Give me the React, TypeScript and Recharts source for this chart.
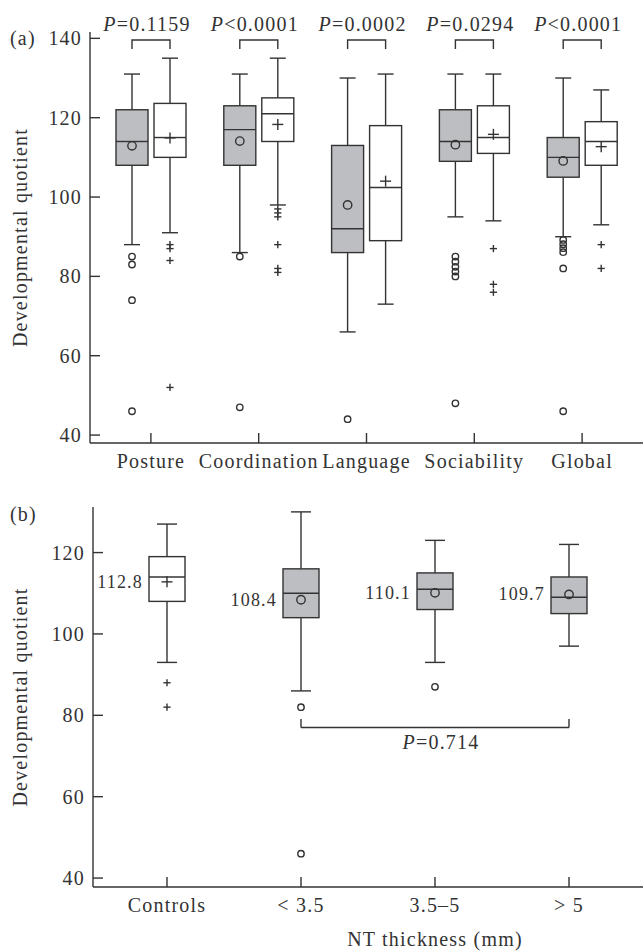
import { Bar, ComposedChart, ReferenceLine, XAxis, YAxis } from "recharts";

// ---- panel (a): developmental domains, NT group (grey) vs controls (white)
const domains = ["Posture", "Coordination", "Language", "Sociability", "Global"];
const pSigns = ["=", "<", "=", "=", "<"];
const pValues = ["0.1159", "0.0001", "0.0002", "0.0294", "0.0001"];

const greyMin = [88, 86, 66, 95, 90];
const greyQ1 = [108, 108, 86, 109, 105];
const greyMedian = [114, 117, 92, 114, 110];
const greyQ3 = [122, 123, 113, 122, 115];
const greyMax = [131, 131, 130, 131, 130];
const greyMean = [112.9, 114.1, 98, 113.2, 109.1];
const greyOutliers = [
  [85, 83, 74, 46],
  [85, 47],
  [44],
  [85, 83.7, 82.4, 81.2, 80, 48],
  [89.2, 88.1, 87.1, 86.1, 82, 46],
];

const whiteMin = [91, 98, 73, 94, 93];
const whiteQ1 = [110, 114, 89, 111, 108];
const whiteMedian = [115, 121, 102.4, 115, 114];
const whiteQ3 = [123.6, 125, 118, 123, 119];
const whiteMax = [135, 135, 131, 131, 127];
const whiteMean = [114.9, 118.3, 104, 115.8, 112.7];
const whiteOutliers = [[88, 87, 84, 52], [97, 96, 95, 88, 82, 81], [], [87, 78, 76], [88, 82]];

// ---- panel (b): by NT thickness
const ntGroups = ["Controls", "< 3.5", "3.5–5", "> 5"];
const ntMin = [93, 86, 93, 97];
const ntQ1 = [108, 104, 106, 105];
const ntMedian = [114, 110, 111, 109];
const ntQ3 = [119, 116, 115, 114];
const ntMax = [127, 130, 123, 122];
const ntMean = [112.8, 108.4, 110.1, 109.7];
const ntOutliers = [[88, 82], [82, 46], [87], []];
const ntBracket = { from: "< 3.5", to: "> 5", y: 77, tip: 79.1, p: "0.714" };

const FONT = '"Liberation Serif", "Times New Roman", serif';
const INK = "#333";
const GREY = "#bdbec1";
const SW = 1.4;

const panelAData = domains.map((name, i) => ({
  name,
  sign: pSigns[i],
  p: pValues[i],
  grey: { min: greyMin[i], q1: greyQ1[i], med: greyMedian[i], q3: greyQ3[i], max: greyMax[i], mean: greyMean[i], out: greyOutliers[i] },
  white: { min: whiteMin[i], q1: whiteQ1[i], med: whiteMedian[i], q3: whiteQ3[i], max: whiteMax[i], mean: whiteMean[i], out: whiteOutliers[i] },
}));

const panelBData = ntGroups.map((name, i) => ({
  name,
  box: { min: ntMin[i], q1: ntQ1[i], med: ntMedian[i], q3: ntQ3[i], max: ntMax[i], mean: ntMean[i], out: ntOutliers[i] },
  control: i === 0,
}));

function Plus({ x, y, r }: { x: number; y: number; r: number }) {
  return (
    <g stroke={INK} strokeWidth={SW}>
      <line x1={x - r} x2={x + r} y1={y} y2={y} />
      <line x1={x} x2={x} y1={y - r} y2={y + r} />
    </g>
  );
}

function Ring({ x, y, r }: { x: number; y: number; r: number }) {
  return <circle cx={x} cy={y} r={r} fill="none" stroke={INK} strokeWidth={SW} />;
}

// the bar spans whisker min..max, so its geometry gives the y scale for the rest
function boxShape(key: string, opts: { cap: number; plus: boolean; grey: boolean; bracket?: boolean; meanLabel?: boolean }) {
  return (props: any) => {
    const { x, y, width, height, payload } = props;
    const s = payload[key];
    const top = Math.min(y, y + height);
    const k = Math.abs(height) / (s.max - s.min);
    const Y = (v: number) => top + (s.max - v) * k;
    const cx = x + width / 2;
    const plus = opts.plus || payload.control;
    const fill = opts.grey && !payload.control ? GREY : "#fff";
    const Marker = plus ? Plus : Ring;
    const span = width + 6;
    return (
      <g>
        <g stroke={INK} strokeWidth={SW}>
          <line x1={cx} x2={cx} y1={Y(s.max)} y2={Y(s.q3)} />
          <line x1={cx} x2={cx} y1={Y(s.q1)} y2={Y(s.min)} />
          <line x1={cx - opts.cap} x2={cx + opts.cap} y1={Y(s.max)} y2={Y(s.max)} />
          <line x1={cx - opts.cap} x2={cx + opts.cap} y1={Y(s.min)} y2={Y(s.min)} />
          <rect x={x} y={Y(s.q3)} width={width} height={Y(s.q1) - Y(s.q3)} fill={fill} />
          <line x1={x} x2={x + width} y1={Y(s.med)} y2={Y(s.med)} />
        </g>
        <Marker x={cx} y={Y(s.mean)} r={plus ? 5.5 : 4.2} />
        {s.out.map((v: number, j: number) => (
          <Marker key={j} x={cx} y={Y(v)} r={plus ? 3.6 : 3.2} />
        ))}
        {opts.meanLabel && (
          <text x={x - 6} y={Y(s.mean)} textAnchor="end" dominantBaseline="central" fontSize={18} fill={INK}>
            {s.mean.toFixed(1)}
          </text>
        )}
        {opts.bracket && (
          <g>
            <path
              d={`M${cx},${Y(137.3)}V${Y(139.6)}H${cx + span}V${Y(137.3)}`}
              fill="none"
              stroke={INK}
              strokeWidth={SW}
            />
            <text x={cx + span / 2 - 4} y={Y(139.6) - 9} textAnchor="middle" fontSize={20} fill={INK}>
              <tspan fontStyle="italic">P</tspan>
              {payload.sign}
              {payload.p}
            </text>
          </g>
        )}
      </g>
    );
  };
}

const yTitle = (cx: number) => (props: any) => {
  const vb = props.viewBox;
  const cy = vb.y + vb.height / 2;
  return (
    <text x={cx} y={cy} transform={`rotate(-90 ${cx} ${cy})`} textAnchor="middle" dominantBaseline="central" fontSize={20} fill={INK}>
      Developmental quotient
    </text>
  );
};

const axisLine = { stroke: INK, strokeWidth: SW };
const tickStyle = { fill: INK, fontSize: 20 };

export default function App() {
  return (
    <div
      style={{
        position: "absolute",
        left: 0,
        top: 0,
        width: 643,
        height: 952,
        background: "#fff",
        fontFamily: FONT,
        letterSpacing: 1.2,
        color: INK,
      }}
    >
      <div style={{ position: "absolute", left: 10, top: 27, fontSize: 20 }}>(a)</div>
      <div style={{ position: "absolute", left: 10, top: 503, fontSize: 20 }}>(b)</div>

      <div style={{ position: "absolute", left: 0, top: 0 }}>
        <ComposedChart width={643} height={480} data={panelAData} margin={{ top: 32, right: 0, bottom: 0, left: 0 }} barGap={6}>
          <XAxis
            dataKey="name"
            type="category"
            height={37}
            padding={{ left: 7, right: 7 }}
            interval={0}
            tickSize={-10}
            tickMargin={21}
            axisLine={axisLine}
            tickLine={axisLine}
            tick={tickStyle}
          />
          <YAxis
            type="number"
            domain={[38, 141.6]}
            ticks={[40, 60, 80, 100, 120, 140]}
            width={90}
            tickSize={-10}
            tickMargin={18}
            axisLine={axisLine}
            tickLine={axisLine}
            tick={tickStyle}
            label={yTitle(19.5)}
          />
          <Bar
            dataKey={(d: any) => [d.grey.min, d.grey.max]}
            barSize={32}
            isAnimationActive={false}
            shape={boxShape("grey", { cap: 8, plus: false, grey: true, bracket: true })}
          />
          <Bar
            dataKey={(d: any) => [d.white.min, d.white.max]}
            barSize={32}
            isAnimationActive={false}
            shape={boxShape("white", { cap: 8, plus: true, grey: false })}
          />
        </ComposedChart>
      </div>

      <div style={{ position: "absolute", left: 0, top: 490 }}>
        <ComposedChart width={643} height={462} data={panelBData} margin={{ top: 17, right: 0, bottom: 0, left: 0 }}>
          <XAxis
            dataKey="name"
            type="category"
            height={65}
            padding={{ left: 7, right: 7 }}
            interval={0}
            tickSize={-10}
            tickMargin={21}
            axisLine={axisLine}
            tickLine={axisLine}
            tick={tickStyle}
            label={(props: any) => (
              <text x={435} y={props.viewBox.y + 52} textAnchor="middle" dominantBaseline="central" fontSize={20} fill={INK}>
                NT thickness (mm)
              </text>
            )}
          />
          <YAxis
            type="number"
            domain={[37.8, 131.2]}
            ticks={[40, 60, 80, 100, 120]}
            width={93}
            tickSize={-10}
            tickMargin={18}
            axisLine={axisLine}
            tickLine={axisLine}
            tick={tickStyle}
            label={yTitle(19.5)}
          />
          <Bar
            dataKey={(d: any) => [d.box.min, d.box.max]}
            barSize={36}
            isAnimationActive={false}
            shape={boxShape("box", { cap: 10, plus: false, grey: true, meanLabel: true })}
          />
          <ReferenceLine
            segment={[
              { x: ntBracket.from, y: ntBracket.y },
              { x: ntBracket.to, y: ntBracket.y },
            ]}
            stroke={INK}
            strokeWidth={SW}
            label={(props: any) => {
              const vb = props.viewBox;
              return (
                <text x={vb.x + vb.width / 2 + 6} y={vb.y + 21} textAnchor="middle" fontSize={20} fill={INK}>
                  <tspan fontStyle="italic">P</tspan>={ntBracket.p}
                </text>
              );
            }}
          />
          <ReferenceLine
            segment={[
              { x: ntBracket.from, y: ntBracket.y },
              { x: ntBracket.from, y: ntBracket.tip },
            ]}
            stroke={INK}
            strokeWidth={SW}
          />
          <ReferenceLine
            segment={[
              { x: ntBracket.to, y: ntBracket.y },
              { x: ntBracket.to, y: ntBracket.tip },
            ]}
            stroke={INK}
            strokeWidth={SW}
          />
        </ComposedChart>
      </div>
    </div>
  );
}
